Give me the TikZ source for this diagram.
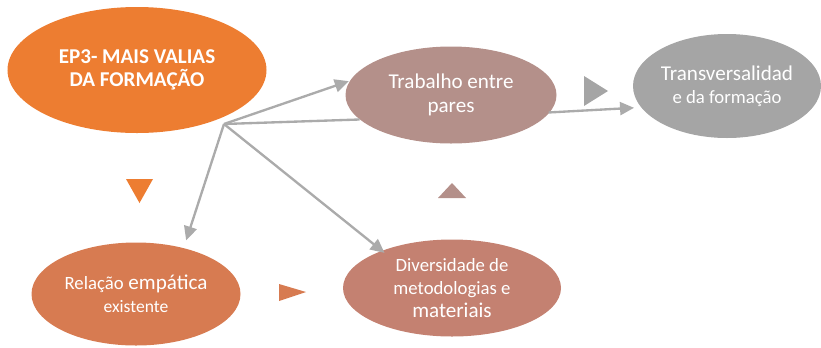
\documentclass[tikz,border=0pt]{standalone}
\usepackage{fontspec}
\setmainfont{Carlito}
\usetikzlibrary{arrows.meta, shapes.geometric}

\definecolor{laranja}{HTML}{ED7D31}
\definecolor{terra}{HTML}{D77B51}
\definecolor{rosado}{HTML}{C48171}
\definecolor{malva}{HTML}{B4908A}
\definecolor{cinza}{HTML}{A5A5A5}
\definecolor{linha}{HTML}{ABABAB}
\newcommand{\grande}{\fontsize{18}{20}\selectfont}
\newcommand{\medio}{\fontsize{16}{19}\selectfont}

\begin{document}
\begin{tikzpicture}[
    bolha/.style={ellipse, inner sep=0pt, text=white, align=center, font=\grande},
    arr/.style={-{Triangle[length=4.2mm,width=3.9mm]}, draw=linha, line width=2pt},
    seg/.style={draw=linha, line width=2pt}
  ]
    \useasboundingbox (0,0) rectangle (24.63,-10.41);
    \node[bolha, fill=laranja, minimum width=7.77cm, minimum height=3.78cm] (mais) at (4.11,-2.10) {\textbf{EP3- MAIS VALIAS}\\ \textbf{DA FORMAÇÃO}};
    \node[bolha, fill=malva, minimum width=6.33cm, minimum height=2.91cm] (pares) at (13.53,-2.85) {Trabalho entre\\ pares};
    \node[bolha, fill=cinza, minimum width=5.64cm, minimum height=3.12cm] (transv) at (21.81,-2.58) {Transversalidad\\ {\medio e da formação}};
    \node[bolha, fill=terra, minimum width=6.27cm, minimum height=3.09cm] (relacao) at (4.08,-8.82) {{\medio Relação} empática\\ {\fontsize{15}{18}\selectfont existente}};
    \node[bolha, fill=rosado, minimum width=6.54cm, minimum height=2.91cm] (divers) at (13.56,-8.64) {{\medio Diversidade de}\\ {\medio metodologias e}\\ materiais};
    \coordinate (hub) at (6.72,-3.72);
    % ligacoes
    \draw[seg] (pares.195) -- (hub);
    \draw[arr, shorten >=1pt] (hub) -- (pares.172);
    \draw[arr, shorten >=6.8pt] (hub) -- (relacao.44);
    \draw[arr, shorten >=-3pt] (hub) -- (divers.152);
    \draw[arr, shorten >=6pt, shorten <=-1pt] (pares.-10) -- (transv.194);
    % setas decorativas
    \fill[cinza] (17.52,-2.28) -- (17.52,-3.18) -- (18.24,-2.73) -- cycle;
    \fill[laranja] (3.78,-5.37) -- (4.59,-5.37) -- (4.185,-6.09) -- cycle;
    \fill[malva] (13.14,-5.94) -- (13.98,-5.94) -- (13.56,-5.49) -- cycle;
    \fill[terra] (8.37,-8.52) -- (8.37,-9.03) -- (9.18,-8.76) -- cycle;
  \end{tikzpicture}
\end{document}
